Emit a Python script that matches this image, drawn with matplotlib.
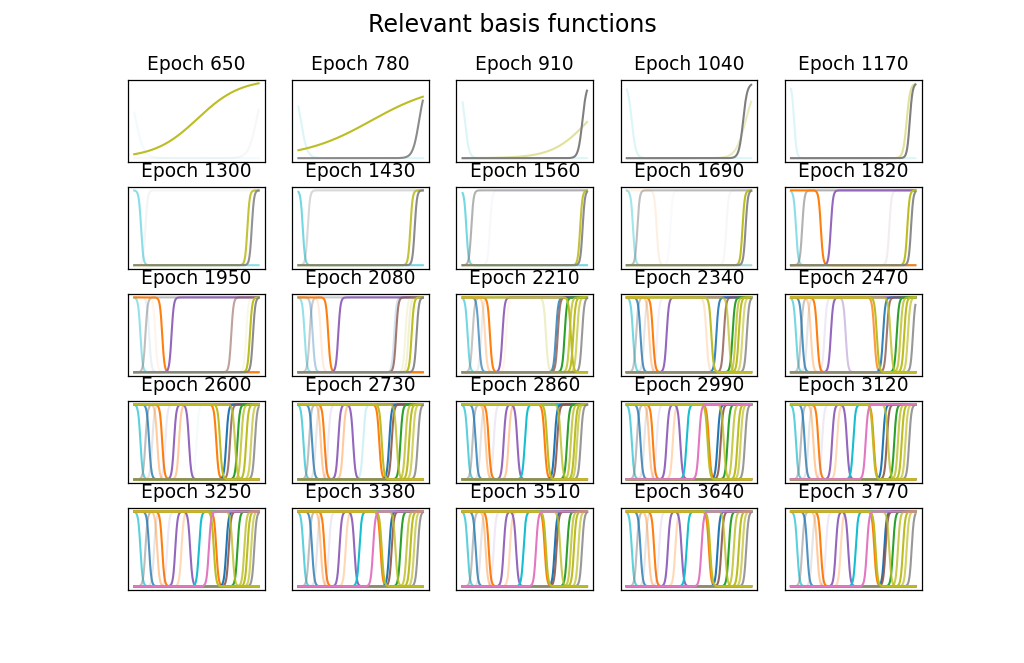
import numpy as np
import matplotlib
matplotlib.use("Agg")
import matplotlib.pyplot as plt

EPOCHS = [650, 780, 910, 1040, 1170, 1300, 1430, 1560, 1690, 1820,
          1950, 2080, 2210, 2340, 2470, 2600, 2730, 2860, 2990, 3120,
          3250, 3380, 3510, 3640, 3770]

# basis functions (drawing order): colour and direction (+1 rising, -1 falling)
BASIS_COLORS = ['tab:cyan', 'tab:gray', 'tab:blue', 'tab:gray', 'tab:orange',
                'tab:orange', 'tab:purple', 'tab:purple', 'tab:orange', 'tab:purple',
                'tab:cyan', 'tab:orange', 'tab:blue', 'tab:brown', 'tab:green',
                'tab:olive', 'tab:olive', 'tab:olive', 'tab:gray', 'tab:olive',
                'tab:olive', 'tab:pink']
BASIS_DIRS = [-1, 1, -1, 1, -1, -1, 1, 1, 1, -1, 1, -1, 1, 1, 1, 1, 1, 1, 1, -1, -1, 1]

N = None
# centre of each basis function per epoch (None = not shown)
CENTERS = [
    [.01, N, N, N, N, N, N, N, N, N, N, N, N, N, N, N, .51, N, .985, N, N, N],
    [.02, N, N, N, N, N, N, N, N, N, N, N, N, N, N, N, .584, N, .97, N, N, N],
    [.018, N, N, N, N, N, N, N, N, N, N, N, N, N, N, N, 1.01, N, .963, N, N, N],
    [.04, N, N, N, N, N, N, N, N, N, N, N, N, N, N, N, .955, N, .935, N, N, N],
    [.025, N, N, N, N, N, N, N, N, N, N, N, N, N, N, N, .93, N, .955, N, N, N],
    [.055, .09, N, N, N, N, N, N, N, N, N, N, N, N, N, N, .91, N, .945, N, N, N],
    [.035, .075, N, N, N, N, N, N, N, N, N, N, N, N, N, N, .90, N, .935, N, N, N],
    [.03, .07, N, N, N, N, .22, N, N, N, N, N, N, N, N, N, .945, N, .965, N, N, N],
    [.05, .085, N, N, N, .24, N, .35, N, N, N, N, N, .80, N, N, .93, N, .955, N, N, N],
    [.04, .09, N, N, N, .24, N, .32, N, N, N, N, N, .79, N, N, .935, N, .965, N, N, N],
    [.05, .09, .12, N, .17, .225, N, .30, N, N, N, N, N, .78, N, .90, .93, N, .955, N, N, N],
    [.05, .09, .115, N, .18, .24, N, .32, N, N, N, N, .77, .785, N, .86, .91, .885, .95, N, N, N],
    [.04, .08, .13, .15, .18, .22, N, .32, .35, N, N, N, .75, .765, .82, .86, .89, .92, .96, .87, .67, N],
    [.05, .075, .11, .14, .18, .21, .245, .32, N, N, N, .64, .72, .78, .85, .875, .90, .93, .965, .82, .68, N],
    [.04, .08, .09, .13, .16, .21, .27, .32, N, .44, N, .67, .74, .77, .85, .88, .91, .94, .98, .80, .69, N],
    [.05, .09, .12, .145, .185, .225, .25, .32, .36, .44, .50, .66, .74, .77, .83, .86, .90, .94, .97, .81, .69, N],
    [.04, .085, .11, .14, .18, .21, .24, .32, .36, .44, .52, .65, .73, .75, .82, .86, .89, .92, .96, .79, .67, N],
    [.04, .08, .105, .145, .185, .21, .25, .33, .37, .44, .50, .66, .74, .76, .84, .87, .90, .92, .95, .79, .68, N],
    [.04, .08, .11, .14, .18, .21, .24, .32, .37, .43, .48, .66, .73, .755, .81, .85, .89, .915, .95, .78, .65, .58],
    [.04, .08, .11, .14, .18, .22, .25, .33, .37, .45, .50, .665, .74, .77, .83, .86, .89, .92, .95, .78, .66, .60],
    [.05, .09, .12, .16, .185, .225, .265, .33, .38, .45, .52, .66, .74, .76, .83, .885, .91, .94, .965, .79, .64, .60],
    [.04, .085, .11, .15, .18, .21, .245, .33, .38, .45, .49, .66, .73, .75, .82, .87, .90, .93, .96, .78, .67, .60],
    [.04, .08, .105, .145, .185, .21, .25, .33, .38, .43, .49, .66, .74, .755, .84, .87, .895, .93, .96, .785, .67, .59],
    [.04, .08, .11, .15, .175, .22, .26, .33, .39, .44, .48, .66, .73, .76, .82, .86, .90, .93, .96, .79, .67, .60],
    [.05, .09, .13, .17, .21, .24, .28, .36, .40, .46, .52, .67, .75, .76, .82, .86, .90, .93, .97, .79, .68, .61],
]

LATE_ALPHA = [.7, .5, .8, .2, .4, 1, .15, 1, .3, 1, 1, 1, 1, .9, 1, .8, 1, .7, .8, .8, 1, 1]
# relevance (opacity) of each basis function per epoch
ALPHAS = [
    [.06, 0, 0, 0, 0, 0, 0, 0, 0, 0, 0, 0, 0, 0, 0, 0, 1, 0, .06, 0, 0, 0],
    [.15, 0, 0, 0, 0, 0, 0, 0, 0, 0, 0, 0, 0, 0, 0, 0, 1, 0, .9, 0, 0, 0],
    [.15, 0, 0, 0, 0, 0, 0, 0, 0, 0, 0, 0, 0, 0, 0, 0, .45, 0, 1, 0, 0, 0],
    [.15, 0, 0, 0, 0, 0, 0, 0, 0, 0, 0, 0, 0, 0, 0, 0, .3, 0, 1, 0, 0, 0],
    [.15, 0, 0, 0, 0, 0, 0, 0, 0, 0, 0, 0, 0, 0, 0, 0, .45, 0, 1, 0, 0, 0],
    [.5, .08, 0, 0, 0, 0, 0, 0, 0, 0, 0, 0, 0, 0, 0, 0, .9, 0, .85, 0, 0, 0],
    [.6, .3, 0, 0, 0, 0, 0, 0, 0, 0, 0, 0, 0, 0, 0, 0, .9, 0, .9, 0, 0, 0],
    [.6, .6, 0, 0, 0, 0, .05, 0, 0, 0, 0, 0, 0, 0, 0, 0, .9, 0, .9, 0, 0, 0],
    [.4, .5, 0, 0, 0, .12, 0, .04, 0, 0, 0, 0, 0, .05, 0, 0, 1, 0, .9, 0, 0, 0],
    [.5, .6, 0, 0, 0, 1, 0, 1, 0, 0, 0, 0, 0, .1, 0, 0, 1, 0, .9, 0, 0, 0],
    [.45, .5, .1, 0, .08, 1, 0, 1, 0, 0, 0, 0, 0, .55, 0, .1, 1, 0, .9, 0, 0, 0],
    [.45, .4, .35, 0, .15, 1, 0, 1, 0, 0, 0, 0, .2, .8, 0, .15, 1, .2, .9, 0, 0, 0],
    [.6, .45, .7, .15, .3, 1, 0, 1, .08, 0, 0, 0, .8, .8, 1, .8, 1, .7, .8, 1, .25, 0],
    [.6, .45, .8, .2, .35, 1, .1, 1, 0, 0, 0, .2, .9, .8, 1, .8, 1, .6, .8, .7, 1, 0],
    [.6, .45, .8, .2, .35, 1, .15, 1, 0, .4, 0, .8, .9, .8, 1, .8, 1, .7, .8, .8, 1, 0],
    [.7, .5, .8, .2, .4, 1, .15, 1, .4, 1, .05, 1, 1, .8, 1, .8, 1, .7, .8, .8, 1, 0],
    [.7, .5, .8, .2, .4, 1, .15, 1, .4, 1, .2, 1, 1, .9, 1, .8, 1, .7, .8, .8, 1, 0],
    [.7, .5, .8, .2, .4, 1, .15, 1, .4, 1, 1, 1, 1, .9, 1, .8, 1, .7, .8, .8, 1, 0],
    LATE_ALPHA, LATE_ALPHA, LATE_ALPHA, LATE_ALPHA, LATE_ALPHA, LATE_ALPHA, LATE_ALPHA,
]

# steepness of the basis functions per epoch, with exceptions
STEEPNESS = [30, 40, 60, 60, 100] + [110] * 20
STEEP_EXCEPTIONS = {(0, 16): 5.8, (1, 16): 3.65, (2, 16): 7, (3, 16): 25, (4, 16): 70,
                    (4, 18): 90}

DPI_SCALE = 1.12
plt.rcParams['axes.linewidth'] = 0.8 * DPI_SCALE

fig, axes = plt.subplots(5, 5, figsize=(10.24, 6.63), dpi=100)
fig.subplots_adjust(hspace=0.3, wspace=0.2)
x = np.linspace(0, 1, 500)
for p, ax in enumerate(axes.flat):
    for j, c in enumerate(CENTERS[p]):
        if c is None or ALPHAS[p][j] <= 0:
            continue
        k = STEEP_EXCEPTIONS.get((p, j), STEEPNESS[p])
        y = 1.0 / (1.0 + np.exp(-BASIS_DIRS[j] * k * (x - c)))
        ax.plot(x, y, color=BASIS_COLORS[j], alpha=ALPHAS[p][j], lw=1.5)
    if p > 0:
        ax.set_ylim(-0.05, 1.05)
    ax.set_xticks([])
    ax.set_yticks([])
    ax.set_title(f"Epoch {EPOCHS[p]}", fontsize=12 * DPI_SCALE, pad=6 * DPI_SCALE)

fig.suptitle("Relevant basis functions", fontsize=15.2 * DPI_SCALE)
fig.savefig("out.png", dpi=100)
